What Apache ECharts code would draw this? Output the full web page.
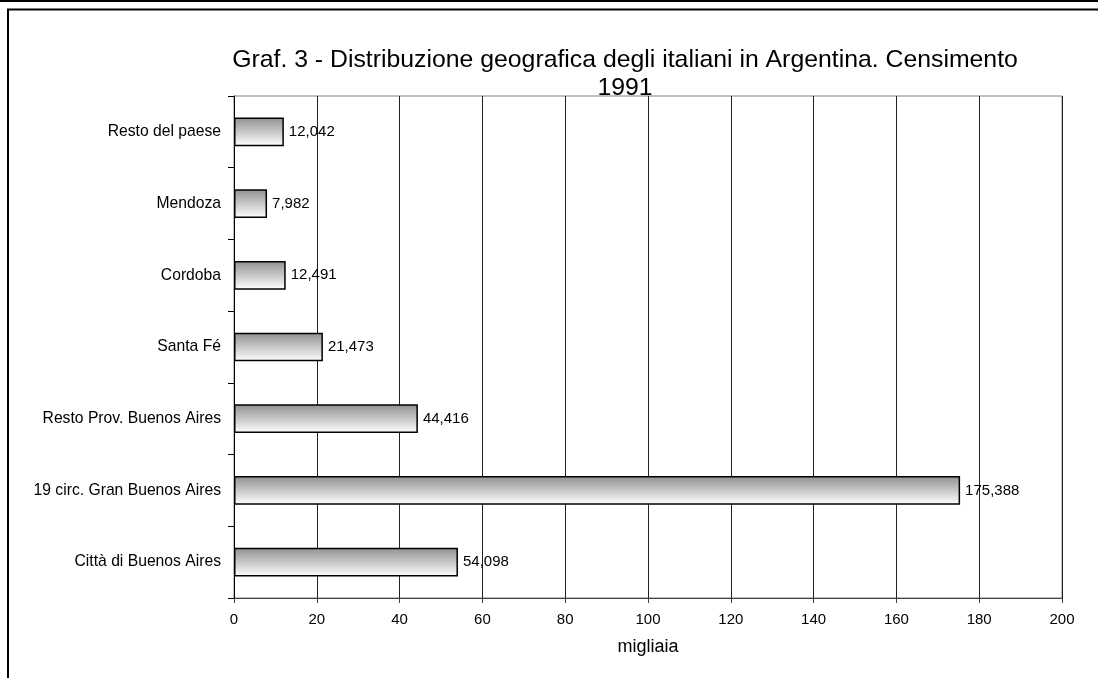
<!DOCTYPE html>
<html>
<head>
<meta charset="utf-8">
<script src="https://cdn.jsdelivr.net/npm/echarts@6/dist/echarts.min.js"></script>
<style>
  html, body { margin: 0; padding: 0; background: #fff; }
  #chart { width: 1098px; height: 678px; }
</style>
</head>
<body>
<div id="chart"></div>
<script>
// Data (values in thousands - "migliaia")
const categories = [
  'Resto del paese',
  'Mendoza',
  'Cordoba',
  'Santa Fé',
  'Resto Prov. Buenos Aires',
  '19 circ. Gran Buenos Aires',
  'Città di Buenos Aires'
];
const values = [12.042, 7.982, 12.491, 21.473, 44.416, 175.388, 54.098];
const xTicks = { min: 0, max: 200, interval: 20 };
const titleText = 'Graf. 3 - Distribuzione geografica degli italiani in Argentina. Censimento\n1991';
const axisName = 'migliaia';

const FONT = '"Liberation Sans", Arial, sans-serif';
const chart = echarts.init(document.getElementById('chart'), null, { renderer: 'canvas' });

chart.setOption({
  backgroundColor: '#ffffff',
  animation: false,
  title: {
    text: titleText,
    left: 620,
    top: 41,
    textAlign: 'center',
    textStyle: {
      fontFamily: FONT,
      fontSize: 24.8,
      fontWeight: 'normal',
      color: '#000',
      lineHeight: 28
    }
  },
  graphic: [
    { type: 'line', shape: { x1: 0, y1: 1, x2: 1098, y2: 1 }, style: { stroke: '#000', lineWidth: 2 } },
    { type: 'line', shape: { x1: 7, y1: 9.5, x2: 1098, y2: 9.5 }, style: { stroke: '#000', lineWidth: 2 } },
    { type: 'line', shape: { x1: 8, y1: 9, x2: 8, y2: 678 }, style: { stroke: '#000', lineWidth: 2 } }
  ],
  grid: {
    left: 234,
    right: 36,
    top: 96,
    bottom: 80,
    show: true,
    borderColor: '#808080',
    borderWidth: 1,
    containLabel: false
  },
  xAxis: {
    type: 'value',
    min: xTicks.min,
    max: xTicks.max,
    interval: xTicks.interval,
    name: axisName,
    nameLocation: 'middle',
    nameGap: 40,
    nameTextStyle: { fontFamily: FONT, fontSize: 18, color: '#000' },
    axisLine: { show: true, lineStyle: { color: '#404040', width: 1 } },
    axisTick: { show: true, length: 5, lineStyle: { color: '#404040' } },
    axisLabel: { fontFamily: FONT, fontSize: 15, color: '#000', margin: 14 },
    splitLine: { show: true, lineStyle: { color: '#202020', width: 1 } }
  },
  yAxis: {
    type: 'category',
    data: categories,
    inverse: true,
    axisLine: { show: true, lineStyle: { color: '#000', width: 1 } },
    axisTick: { show: true, length: 6, lineStyle: { color: '#000' } },
    axisLabel: { fontFamily: FONT, fontSize: 15.7, color: '#000', margin: 13 },
    splitLine: { show: false }
  },
  series: [{
    type: 'bar',
    data: values,
    barWidth: '40%',
    itemStyle: {
      color: new echarts.graphic.LinearGradient(0, 0, 0, 1, [
        { offset: 0, color: '#909090' },
        { offset: 1, color: '#ffffff' }
      ]),
      borderColor: '#000',
      borderWidth: 1.5
    },
    label: {
      show: true,
      position: 'right',
      distance: 5,
      fontFamily: FONT,
      fontSize: 15,
      color: '#000',
      formatter: p => p.value.toFixed(3).replace('.', ',')
    }
  }]
});
</script>
</body>
</html>
